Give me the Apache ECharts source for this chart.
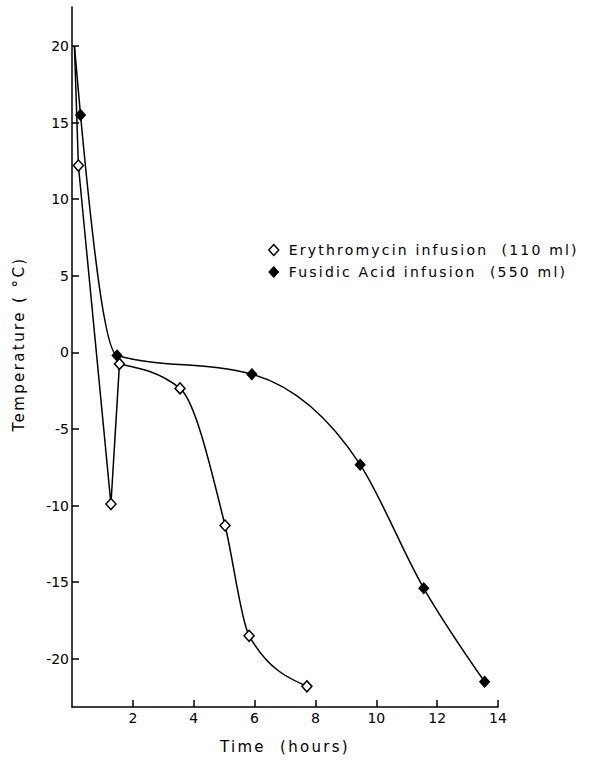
<!DOCTYPE html>
<html>
<head>
<meta charset="utf-8">
<script src="https://cdn.jsdelivr.net/npm/echarts@6/dist/echarts.min.js"></script>
<style>html,body{margin:0;padding:0;background:#fff}#chart{width:590px;height:760px}</style>
</head>
<body>
<div id="chart"></div>
<script>
// Data
const eryTime = [0.08, 0.21, 1.28, 1.56, 3.55, 5.03, 5.82, 7.72];
const eryTemp = [20, 12.2, -9.9, -0.75, -2.35, -11.3, -18.5, -21.8];
const fusTime = [0.08, 0.28, 1.48, 5.91, 9.47, 11.56, 13.56];
const fusTemp = [20, 15.5, -0.2, -1.42, -7.33, -15.4, -21.5];
const xTicks = [2, 4, 6, 8, 10, 12, 14];
const yTicks = [-20, -15, -10, -5, 0, 5, 10, 15, 20];
const eryName = 'Erythromycin infusion  (110 ml)';
const fusName = 'Fusidic Acid infusion  (550 ml)';
const xName = 'Time  (hours)';
const yName = 'Temperature ( °C)';

const ery = eryTime.map((t, i) => [t, eryTemp[i]]);
const fus = fusTime.map((t, i) => [t, fusTemp[i]]);

const font = 'DejaVu Sans';
const lineStyle = { color: '#000', width: 1.5 };
const openItem = { color: '#fff', borderColor: '#000', borderWidth: 1.5, opacity: 1 };
const filledItem = { color: '#000', borderColor: '#000', borderWidth: 1, opacity: 1 };

// Monotone cubic (in pixel space) path through pixel points
function sign(v) { return v < 0 ? -1 : 1; }
function monotonePath(p) {
  const n = p.length;
  if (n < 2) return '';
  const s = [];
  for (let i = 0; i < n - 1; i++) s.push((p[i + 1][1] - p[i][1]) / (p[i + 1][0] - p[i][0]));
  const m = new Array(n);
  for (let i = 1; i < n - 1; i++) {
    const h0 = p[i][0] - p[i - 1][0], h1 = p[i + 1][0] - p[i][0];
    const s0 = s[i - 1], s1 = s[i];
    const q = (s0 * h1 + s1 * h0) / (h0 + h1);
    m[i] = (sign(s0) + sign(s1)) * Math.min(Math.abs(s0), Math.abs(s1), 0.5 * Math.abs(q)) || 0;
  }
  if (n === 2) { m[0] = s[0]; m[1] = s[0]; }
  else {
    m[0] = (3 * s[0] - m[1]) / 2;
    m[n - 1] = (3 * s[n - 2] - m[n - 2]) / 2;
  }
  let d = 'M' + p[0][0] + ' ' + p[0][1];
  for (let i = 0; i < n - 1; i++) {
    const dx = (p[i + 1][0] - p[i][0]) / 3;
    d += ' C' + (p[i][0] + dx) + ' ' + (p[i][1] + dx * m[i]) + ' ' +
      (p[i + 1][0] - dx) + ' ' + (p[i + 1][1] - dx * m[i + 1]) + ' ' +
      p[i + 1][0] + ' ' + p[i + 1][1];
  }
  return d;
}

function curveSeries(points) {
  return {
    type: 'custom', data: points, silent: true, z: 2, clip: false,
    encode: { x: 0, y: 1 },
    renderItem: function (params, api) {
      if (params.dataIndex !== 0) return null;
      const px = points.map(pt => api.coord(pt));
      return {
        type: 'path',
        shape: { pathData: monotonePath(px) },
        style: { stroke: '#000', lineWidth: 1.5, fill: 'none' }
      };
    }
  };
}

const chart = echarts.init(document.getElementById('chart'), null, { renderer: 'svg' });
chart.setOption({
  animation: false,
  backgroundColor: '#fff',
  textStyle: { fontFamily: font, color: '#000' },
  grid: { left: 72, right: 92, top: 7, bottom: 53, containLabel: false },
  legend: {
    orient: 'vertical', left: 263, top: 238, itemGap: 8,
    itemWidth: 10, itemHeight: 11,
    textStyle: { fontFamily: font, fontSize: 14, lineHeight: 14, color: '#000', padding: [0, 0, 0, 5] },
    data: [
      { name: eryName, icon: 'diamond', itemStyle: openItem },
      { name: fusName, icon: 'diamond', itemStyle: filledItem }
    ]
  },
  xAxis: {
    type: 'value', min: 0, max: 14,
    name: xName, nameLocation: 'middle', nameGap: 32,
    nameTextStyle: { fontFamily: font, fontSize: 15, color: '#000' },
    axisLine: { onZero: false, lineStyle: { color: '#000', width: 1.5 } },
    axisTick: { inside: true, length: 7, customValues: xTicks, lineStyle: { color: '#000', width: 1.5 } },
    axisLabel: { customValues: xTicks, margin: 4, fontSize: 14, color: '#000', fontFamily: font },
    splitLine: { show: false }
  },
  yAxis: {
    type: 'value', min: -23.15, max: 22.55,
    name: yName, nameLocation: 'middle', nameGap: 46, nameRotate: 90,
    nameTextStyle: { fontFamily: font, fontSize: 15, color: '#000', padding: [0, 0, 0, 26] },
    axisLine: { onZero: false, lineStyle: { color: '#000', width: 1.5 } },
    axisTick: { inside: true, length: 7, customValues: yTicks, lineStyle: { color: '#000', width: 1.5 } },
    axisLabel: { customValues: yTicks, margin: 3, fontSize: 14, color: '#000', fontFamily: font },
    splitLine: { show: false }
  },
  series: [
    // straight opening segments of the erythromycin trace
    { type: 'line', data: ery.slice(0, 4), showSymbol: false, lineStyle, z: 2, silent: true },
    curveSeries(ery.slice(3)),
    curveSeries(fus),
    { name: eryName, type: 'scatter', data: ery.slice(1), symbol: 'diamond', symbolSize: [10, 11], itemStyle: openItem, z: 5 },
    { name: fusName, type: 'scatter', data: fus.slice(1), symbol: 'diamond', symbolSize: [10, 11], itemStyle: filledItem, z: 6 }
  ]
});

const spaced = {};
spaced[eryName] = '2.2px'; spaced[fusName] = '2.2px';
spaced[xName] = '2.3px'; spaced[yName] = '2.4px';
function applySpacing() {
  document.querySelectorAll('#chart text').forEach(t => {
    const ls = spaced[t.textContent];
    if (ls) t.style.letterSpacing = ls;
  });
}
applySpacing();
chart.on('finished', applySpacing);
</script>
</body>
</html>
